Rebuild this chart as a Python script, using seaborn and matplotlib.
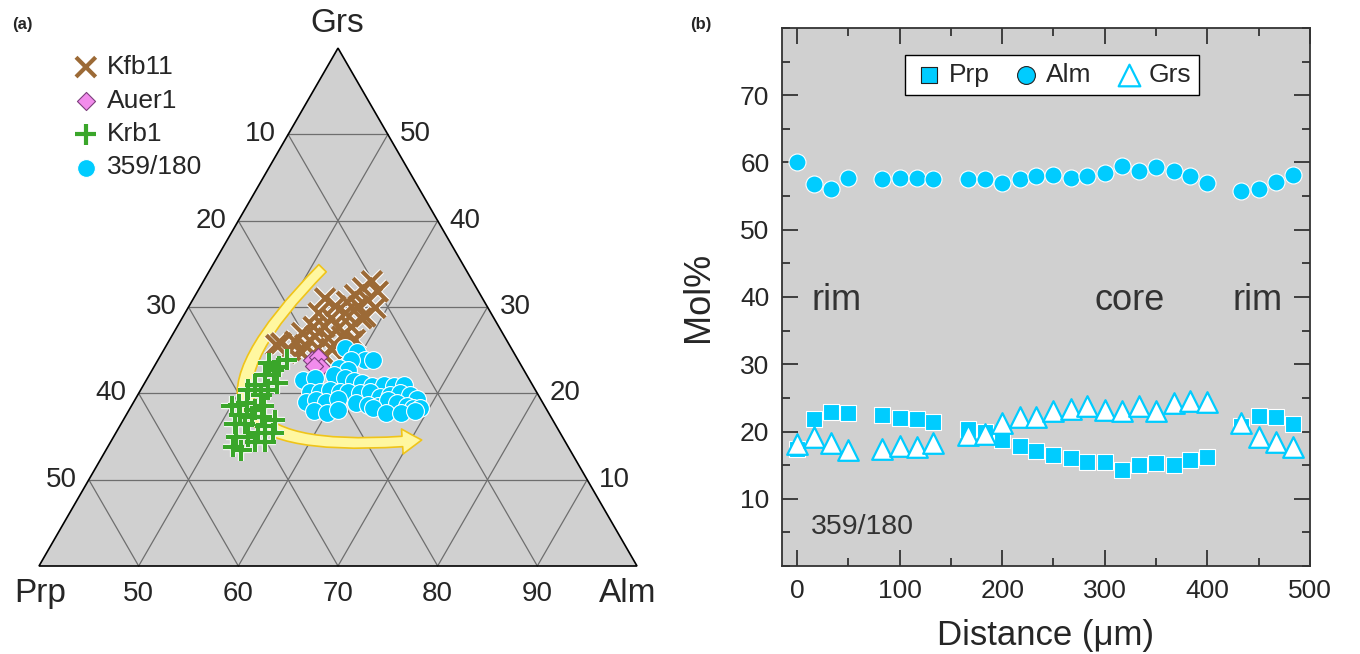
import numpy as np
import matplotlib
matplotlib.use('Agg')
import matplotlib.pyplot as plt
import matplotlib.patheffects as pe
from matplotlib.patches import Polygon, FancyArrowPatch
from matplotlib.path import Path
from matplotlib.ticker import MultipleLocator
import seaborn as sns

# ---------------- (a) ternary Prp-Alm-Grs (mol%), Prp = 100 - Alm - Grs
kfb11_alm = [56.9, 56.4, 58.1, 56.0, 57.6, 55.6, 57.0, 58.8, 54.7, 53.2, 56.1, 58.0,
             55.0, 53.4, 57.5, 56.3, 54.8, 53.7, 54.4, 52.9, 55.8, 57.1, 58.6, 52.7,
             53.9, 55.4, 56.7, 51.4, 51.0, 52.7, 54.0, 56.6, 58.4, 58.3, 58.4]
kfb11_grs = [33.0, 32.2, 31.8, 31.4, 30.8, 30.6, 30.1, 29.9, 30.1, 31.0, 29.3, 28.7,
             28.7, 29.3, 27.7, 27.6, 27.7, 27.7, 26.6, 27.0, 26.4, 26.6, 26.2, 26.0,
             25.6, 25.2, 25.2, 25.8, 25.6, 25.0, 24.7, 24.3, 25.2, 28.9, 26.0]

auer1_alm = [55.4, 55.9, 56.7, 56.0]
auer1_grs = [23.9, 24.2, 23.1, 23.2]

krb1_alm = [52.9, 52.5, 51.3, 51.6, 52.2, 53.3, 51.2, 52.8, 50.8, 52.4, 50.7, 50.1,
            51.4, 52.6, 51.4, 51.4, 52.4, 55.2, 54.6, 54.3, 53.5, 52.3, 52.6, 53.6,
            54.5, 55.5, 55.8, 53.3, 52.7, 53.7]
krb1_grs = [23.9, 23.1, 23.5, 22.1, 22.7, 21.2, 21.0, 20.4, 20.4, 19.8, 18.7, 18.5,
            18.9, 18.1, 17.5, 16.5, 16.5, 16.9, 16.2, 15.4, 15.0, 15.0, 13.8, 13.4,
            14.4, 14.4, 15.4, 18.5, 17.3, 17.3]

s359_alm = [58.1, 59.5, 60.8, 61.6, 59.4, 58.7, 59.7, 58.5, 59.8, 55.7, 56.8, 60.9,
            61.8, 63.0, 64.1, 65.2, 66.1, 57.1, 58.1, 59.0, 60.1, 60.9, 62.2, 63.1,
            64.4, 65.3, 66.2, 67.3, 68.2, 57.3, 58.2, 59.3, 60.3, 62.4, 63.7, 64.8,
            65.4, 66.5, 67.7, 68.4, 69.1, 58.6, 60.0, 61.0, 64.4, 66.0, 67.5, 68.8]
s359_grs = [25.2, 24.8, 23.9, 23.9, 23.9, 22.9, 22.7, 22.1, 21.8, 21.6, 21.8, 21.4,
            21.2, 20.8, 21.0, 20.8, 21.0, 20.2, 20.2, 20.4, 20.2, 20.2, 20.0, 20.2,
            19.6, 19.8, 20.0, 19.8, 19.4, 19.0, 19.2, 19.0, 19.4, 18.9, 18.7, 18.5,
            19.2, 18.9, 18.5, 18.3, 18.3, 17.9, 17.7, 18.1, 18.3, 17.7, 17.7, 17.9]

# zoning trend arrow (start, bezier control, tip) as Alm / Grs
arrow_alm = [51.2, 43.1, 71.1]
arrow_grs = [34.5, 11.6, 14.6]

grid_vals = [10, 20, 30, 40, 50]
alm_ticks = [50, 60, 70, 80, 90]

# ---------------- (b) profile 359/180
distance = [0, 17, 33, 50, 83, 100, 117, 133, 167, 183, 200, 217, 233, 250, 267,
            283, 300, 317, 333, 350, 367, 383, 400, 433, 450, 467, 483]
prp = [17.4, 21.9, 22.9, 22.7, 22.4, 22.0, 21.9, 21.4, 20.4, 20.0, 18.7, 17.9, 17.1,
       16.5, 16.1, 15.5, 15.5, 14.3, 15.0, 15.3, 15.0, 15.8, 16.2, 20.8, 22.3, 22.2, 21.1]
alm = [60.0, 56.8, 56.1, 57.7, 57.6, 57.7, 57.7, 57.5, 57.6, 57.6, 57.0, 57.5, 58.0,
       58.1, 57.7, 58.0, 58.5, 59.5, 58.8, 59.3, 58.7, 58.0, 57.0, 55.8, 56.0, 57.1, 58.1]
grs = [18.2, 19.2, 18.3, 17.2, 17.4, 17.9, 17.7, 18.3, 19.5, 19.6, 21.3, 22.1, 22.1,
       23.0, 23.4, 23.8, 23.2, 23.0, 23.8, 23.0, 24.2, 24.5, 24.4, 21.3, 19.2, 18.5, 17.7]

GRAY = '#d0d0d0'
CYAN = '#00ccff'
H = np.sqrt(3) / 2


def tern_xy(a, g):
    """Alm/Grs (mol%) -> cartesian in the 40-100 Alm sub-triangle"""
    a = (np.asarray(a, float) - 40) / 60
    g = np.asarray(g, float) / 60
    return a + g / 2, g * H


sns.set_theme(style='ticks')
plt.rcParams['font.family'] = ['Liberation Sans', 'DejaVu Sans']

fig = plt.figure(figsize=(13.6, 6.54), dpi=100)

# ---------------- panel (a)
ax1 = fig.add_axes([0, 0, 0.5, 1])
ax1.set_xlim(-39 / 598, 641 / 598)
ax1.set_ylim((566 - 654) / 598, 566 / 598)
ax1.axis('off')

ax1.add_patch(Polygon([(0, 0), (1, 0), (0.5, H)], closed=True, fc=GRAY,
                      ec='none', zorder=0))
for v in grid_vals:
    # Grs = const
    x, y = tern_xy([40, 100 - v], [v, v])
    ax1.plot(x, y, color='#6e6e6e', lw=0.9, zorder=1)
    # Prp = const
    x, y = tern_xy([100 - v, 40], [0, 60 - v])
    ax1.plot(x, y, color='#6e6e6e', lw=0.9, zorder=1)
for v in alm_ticks:
    x, y = tern_xy([v, v], [0, 100 - v])
    ax1.plot(x, y, color='#6e6e6e', lw=0.9, zorder=1)
ax1.add_patch(Polygon([(0, 0), (1, 0), (0.5, H)], closed=True, fc='none',
                      ec='black', lw=1.2, zorder=2))

tick_fs = 20
for v in grid_vals:
    x, y = tern_xy(40, 60 - v)
    ax1.text(x - 0.02, y, str(v), ha='right', va='center', fontsize=tick_fs)
    x, y = tern_xy(100 - v, v)
    ax1.text(x + 0.02, y, str(v), ha='left', va='center', fontsize=tick_fs)
for v in alm_ticks:
    x, y = tern_xy(v, 0)
    ax1.text(x, y - 0.046, str(v), ha='center', va='center', fontsize=tick_fs)
ax1.text(0.002, -0.046, 'Prp', ha='center', va='center', fontsize=24)
ax1.text(0.985, -0.046, 'Alm', ha='center', va='center', fontsize=24)
ax1.text(0.498, 0.907, 'Grs', ha='center', va='center', fontsize=24)

# trend arrow
ax_, ay_ = tern_xy(arrow_alm, arrow_grs)
arrow = FancyArrowPatch(
    path=Path(list(zip(ax_, ay_)), [Path.MOVETO, Path.CURVE3, Path.CURVE3]),
    arrowstyle='simple,head_width=1.8,head_length=1.4,tail_width=0.75',
    mutation_scale=10, fc='#fff7a0', ec='#f0c419', lw=1.2, zorder=3)
ax1.add_patch(arrow)

outline = lambda w: [pe.Stroke(linewidth=w, foreground='white'), pe.Normal()]

x, y = tern_xy(kfb11_alm, kfb11_grs)
sns.scatterplot(x=x, y=y, marker='x', s=200, color='#9c6a36', linewidth=3,
                label='Kfb11', ax=ax1, zorder=4)
ax1.collections[-1].set_path_effects(outline(4.5))

x, y = tern_xy(auer1_alm, auer1_grs)
sns.scatterplot(x=x, y=y, marker='D', s=85, color='#f28cec', edgecolor='#7d3f7d',
                linewidth=0.8, label='Auer1', ax=ax1, zorder=5)

x, y = tern_xy(krb1_alm, krb1_grs)
sns.scatterplot(x=x, y=y, marker='+', s=230, color='#3aa62a', linewidth=3,
                label='Krb1', ax=ax1, zorder=4)
ax1.collections[-1].set_path_effects(outline(4.5))

x, y = tern_xy(s359_alm, s359_grs)
sns.scatterplot(x=x, y=y, marker='o', s=165, color=CYAN, edgecolor='white',
                linewidth=0.8, label='359/180', ax=ax1, zorder=6)

leg1 = ax1.legend(loc='upper left', bbox_to_anchor=(70 / 1360, 1 - 55 / 654),
                  bbox_transform=fig.transFigure, frameon=False, fontsize=19,
                  handletextpad=0.2, labelspacing=0.36, borderpad=0,
                  borderaxespad=0, handlelength=1.2)

fig.text(12 / 1360, 1 - 25 / 654, '(a)', fontsize=12, fontweight='bold', va='center')
fig.text(690 / 1360, 1 - 25 / 654, '(b)', fontsize=12, fontweight='bold', va='center')

# ---------------- panel (b)
ax2 = fig.add_axes([782 / 1360, 88 / 654, 528 / 1360, 538 / 654])
ax2.set_facecolor(GRAY)

sns.scatterplot(x=distance, y=prp, marker='s', s=125, color=CYAN, edgecolor='white',
                linewidth=0.8, label='Prp', ax=ax2, zorder=3)
sns.scatterplot(x=distance, y=alm, marker='o', s=150, color=CYAN, edgecolor='white',
                linewidth=0.8, label='Alm', ax=ax2, zorder=3)
sns.scatterplot(x=distance, y=grs, marker='^', s=220, color='white', edgecolor=CYAN,
                linewidth=1.6, label='Grs', ax=ax2, zorder=4)

ax2.set_xlim(-14.6, 500)
ax2.set_ylim(0, 80)
ax2.xaxis.set_major_locator(MultipleLocator(100))
ax2.xaxis.set_minor_locator(MultipleLocator(50))
ax2.set_yticks([10, 20, 30, 40, 50, 60, 70])
ax2.yaxis.set_minor_locator(MultipleLocator(5))
ax2.tick_params(which='both', direction='in', top=True, right=True,
                width=1.3, color='#333333')
ax2.tick_params(which='major', length=11.5, labelsize=19, pad=9)
ax2.tick_params(which='minor', length=6)
for sp in ax2.spines.values():
    sp.set_linewidth(1.3)
    sp.set_color('#333333')

ax2.set_xlabel('Distance (μm)', fontsize=25)
ax2.set_ylabel('Mol%', fontsize=26)
ax2.xaxis.set_label_coords(0.5, -0.0985)
ax2.yaxis.set_label_coords(-0.125, 0.5)

ax2.text(39, 39.5, 'rim', fontsize=26, color='#333333', ha='center', va='center')
ax2.text(324, 39.5, 'core', fontsize=26, color='#333333', ha='center', va='center')
ax2.text(449, 39.5, 'rim', fontsize=26, color='#333333', ha='center', va='center')
ax2.text(64, 5.8, '359/180', fontsize=20.5, color='#333333', ha='center', va='center')

leg2 = ax2.legend(loc='upper center', bbox_to_anchor=(1052 / 1360, 1 - 55 / 654),
                  bbox_transform=fig.transFigure, ncol=3, fontsize=19, frameon=True,
                  fancybox=False, framealpha=1, edgecolor='black',
                  handletextpad=0.15, columnspacing=0.8, borderpad=0.3,
                  borderaxespad=0, handlelength=1.2, markerscale=1.05)
leg2.get_frame().set_linewidth(1.0)
for h in leg2.legend_handles[:2]:
    h.set_edgecolor('#222222')

fig.savefig('out.png', dpi=100)
